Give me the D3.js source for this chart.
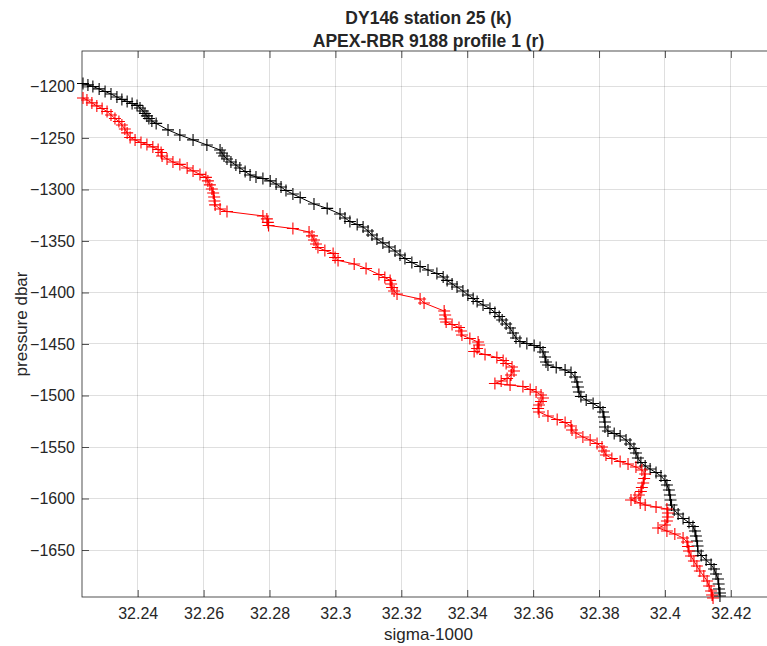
<!DOCTYPE html>
<html>
<head>
<meta charset="utf-8">
<script src="https://cdn.jsdelivr.net/npm/d3@7"></script>
<style>
  html, body { margin: 0; padding: 0; background: #fff; }
  text { font-family: "Liberation Sans", Arial, Helvetica, sans-serif; fill: #262626; }
</style>
</head>
<body>
<div id="chart"></div>
<script>
// DY146 station 25 (black)
var sigmaK = [32.2234,32.2249,32.2264,32.2283,32.2301,32.2319,32.2337,32.2352,32.2368,32.2383,
  32.2398,32.2407,32.2416,32.2422,32.2428,32.2434,32.2443,32.2456,32.2492,32.2528,
  32.2568,32.2610,32.2650,32.2656,32.2662,32.2671,32.2683,32.2698,32.2710,32.2726,
  32.2741,32.2759,32.2780,32.2802,32.2820,32.2835,32.2850,32.2871,32.2893,32.2935,
  32.2975,32.3014,32.3029,32.3044,32.3066,32.3084,32.3099,32.3111,32.3126,32.3144,
  32.3163,32.3181,32.3196,32.3211,32.3232,32.3257,32.3281,32.3308,32.3327,32.3339,
  32.3354,32.3369,32.3387,32.3402,32.3418,32.3430,32.3448,32.3469,32.3484,32.3497,
  32.3506,32.3518,32.3530,32.3539,32.3548,32.3560,32.3581,32.3603,32.3621,32.3630,
  32.3636,32.3639,32.3645,32.3670,32.3697,32.3715,32.3727,32.3733,32.3736,32.3739,
  32.3745,32.3761,32.3782,32.3803,32.3812,32.3815,32.3818,32.3818,32.3827,32.3846,
  32.3864,32.3882,32.3894,32.3906,32.3912,32.3918,32.3927,32.3940,32.3955,32.3973,
  32.3988,32.4000,32.4006,32.4012,32.4015,32.4017,32.4020,32.4028,32.4040,32.4055,
  32.4073,32.4085,32.4091,32.4094,32.4097,32.4099,32.4100,32.4110,32.4125,32.4140,
  32.4149,32.4155,32.4161,32.4163,32.4164,32.4167,32.4167];
var presK = [-1197.1,-1198.5,-1200.0,-1202.4,-1204.9,-1207.3,-1210.2,-1212.6,-1214.6,-1216.5,
  -1218.4,-1220.9,-1223.8,-1226.2,-1228.6,-1231.1,-1233.5,-1235.9,-1242.2,-1247.1,
  -1251.9,-1256.8,-1261.7,-1264.6,-1267.5,-1270.4,-1273.3,-1276.2,-1279.1,-1282.5,
  -1285.9,-1287.9,-1289.3,-1291.7,-1294.7,-1297.6,-1301.0,-1304.4,-1307.8,-1314.1,
  -1318.4,-1323.8,-1327.7,-1331.1,-1334.0,-1336.4,-1340.3,-1344.2,-1348.1,-1351.9,
  -1355.8,-1359.7,-1363.6,-1367.0,-1370.9,-1374.8,-1378.2,-1381.6,-1385.0,-1388.3,
  -1391.7,-1394.7,-1398.5,-1402.4,-1405.8,-1408.7,-1412.1,-1415.5,-1419.4,-1423.3,
  -1426.7,-1430.6,-1434.5,-1439.3,-1444.2,-1447.6,-1449.5,-1451.5,-1453.4,-1457.8,
  -1462.6,-1467.5,-1470.4,-1472.8,-1475.2,-1477.7,-1482.0,-1486.9,-1491.7,-1496.6,
  -1501.0,-1504.4,-1507.8,-1511.7,-1516.0,-1520.9,-1525.7,-1530.6,-1534.5,-1536.9,
  -1539.3,-1543.2,-1547.1,-1551.5,-1555.8,-1560.7,-1565.0,-1568.4,-1571.4,-1574.8,
  -1578.2,-1582.5,-1586.9,-1591.7,-1596.6,-1601.5,-1606.3,-1611.2,-1615.0,-1619.4,
  -1623.3,-1627.2,-1631.6,-1636.4,-1641.3,-1646.1,-1651.0,-1655.3,-1659.7,-1664.1,
  -1668.4,-1673.3,-1678.2,-1683.0,-1687.9,-1691.7,-1694.7];

// APEX-RBR 9188 profile 1 (red)
var sigmaR = [32.2234,32.2246,32.2261,32.2276,32.2292,32.2307,32.2319,32.2331,32.2343,32.2352,
  32.2361,32.2368,32.2377,32.2392,32.2410,32.2428,32.2446,32.2462,32.2471,32.2474,
  32.2489,32.2507,32.2528,32.2550,32.2568,32.2589,32.2607,32.2613,32.2619,32.2625,
  32.2629,32.2632,32.2633,32.2635,32.2650,32.2671,32.2780,32.2792,32.2795,32.2797,
  32.2871,32.2920,32.2929,32.2935,32.2941,32.2947,32.2968,32.2993,32.2999,32.3008,
  32.3057,32.3093,32.3132,32.3150,32.3166,32.3169,32.3172,32.3178,32.3187,32.3257,
  32.3269,32.3330,32.3333,32.3333,32.3336,32.3354,32.3375,32.3381,32.3384,32.3408,
  32.3433,32.3436,32.3430,32.3421,32.3454,32.3490,32.3509,32.3518,32.3536,32.3542,
  32.3533,32.3521,32.3503,32.3484,32.3530,32.3569,32.3591,32.3609,32.3624,32.3630,
  32.3624,32.3618,32.3615,32.3618,32.3645,32.3673,32.3697,32.3715,32.3718,32.3730,
  32.3751,32.3773,32.3794,32.3809,32.3815,32.3821,32.3839,32.3864,32.3888,32.3912,
  32.3930,32.3940,32.3937,32.3934,32.3930,32.3927,32.3921,32.3909,32.3897,32.3925,
  32.3940,32.3973,32.4006,32.4009,32.4009,32.4006,32.4000,32.3979,32.4006,32.4030,
  32.4055,32.4067,32.4070,32.4073,32.4079,32.4088,32.4097,32.4106,32.4118,32.4128,
  32.4134,32.4140,32.4143,32.4146];
var presR = [-1211.2,-1213.1,-1216.0,-1218.9,-1221.4,-1224.3,-1227.7,-1231.1,-1234.0,-1237.4,
  -1241.3,-1245.1,-1249.5,-1251.9,-1254.4,-1256.3,-1258.7,-1261.2,-1264.1,-1267.5,
  -1270.4,-1273.3,-1275.7,-1279.1,-1282.0,-1285.4,-1288.3,-1291.7,-1295.6,-1299.5,
  -1303.4,-1307.3,-1311.2,-1315.0,-1318.9,-1321.4,-1325.7,-1328.6,-1332.0,-1335.0,
  -1337.9,-1341.3,-1345.1,-1349.0,-1352.9,-1356.3,-1359.2,-1362.1,-1366.0,-1368.9,
  -1372.3,-1376.7,-1382.5,-1385.4,-1388.3,-1391.7,-1395.1,-1398.5,-1401.5,-1406.3,
  -1410.2,-1418.0,-1421.8,-1425.7,-1428.6,-1431.1,-1434.0,-1437.4,-1441.3,-1444.7,
  -1448.1,-1451.0,-1454.4,-1457.3,-1460.2,-1463.1,-1466.0,-1468.9,-1472.3,-1476.2,
  -1480.1,-1483.5,-1485.9,-1488.3,-1489.8,-1491.3,-1494.2,-1496.6,-1499.5,-1502.4,
  -1505.8,-1509.2,-1512.6,-1516.0,-1519.9,-1523.3,-1526.2,-1529.6,-1533.5,-1536.4,
  -1540.3,-1543.2,-1546.6,-1550.0,-1553.9,-1557.8,-1561.2,-1564.1,-1566.5,-1569.4,
  -1572.3,-1576.2,-1580.6,-1585.0,-1589.3,-1593.2,-1596.6,-1599.5,-1601.5,-1604.4,
  -1606.3,-1608.3,-1610.2,-1614.1,-1618.0,-1621.8,-1625.7,-1628.6,-1631.6,-1634.5,
  -1638.3,-1642.2,-1646.6,-1651.0,-1655.8,-1660.7,-1665.5,-1670.4,-1675.2,-1680.1,
  -1684.9,-1689.8,-1693.7,-1696.6];

var xTicks = [32.24, 32.26, 32.28, 32.3, 32.32, 32.34, 32.36, 32.38, 32.4, 32.42];
var yTicks = [-1650, -1600, -1550, -1500, -1450, -1400, -1350, -1300, -1250, -1200];
var xDomain = [32.2231, 32.4334];
var yDomain = [-1695.6, -1165.6];

var titleLines = ["DY146 station 25 (k)", "APEX-RBR 9188 profile 1 (r)"];

var width = 767, height = 646;
var box = {left: 82, right: 775, top: 51, bottom: 597};
var axisColor = "#262626";

var x = d3.scaleLinear().domain(xDomain).range([box.left, box.right]);
var y = d3.scaleLinear().domain(yDomain).range([box.bottom, box.top]);

var svg = d3.select("#chart")
            .append("svg")
            .attr("width", width)
            .attr("height", height)
            .style("display", "block");

svg.append("rect")
   .attr("width", width)
   .attr("height", height)
   .attr("fill", "#fff");

// grid
var grid = svg.append("g").attr("class", "grid")
              .attr("stroke", axisColor)
              .attr("stroke-opacity", 0.15)
              .attr("stroke-width", 1)
              .style("shape-rendering", "crispEdges");

grid.selectAll("line.gx")
    .data(xTicks)
    .enter()
    .append("line")
    .attr("x1", d => x(d)).attr("x2", d => x(d))
    .attr("y1", box.top).attr("y2", box.bottom);

grid.selectAll("line.gy")
    .data(yTicks)
    .enter()
    .append("line")
    .attr("x1", box.left).attr("x2", box.right)
    .attr("y1", d => y(d)).attr("y2", d => y(d));

// axes with inward ticks
var fmtX = d => String(+d.toFixed(2));

var xAxis = svg.append("g")
               .attr("transform", "translate(0," + box.bottom + ")")
               .call(d3.axisBottom(x).tickValues(xTicks).tickFormat(fmtX)
                       .tickSizeInner(-7).tickSizeOuter(0).tickPadding(10.5));

var xTop = svg.append("g")
              .attr("transform", "translate(0," + box.top + ")")
              .call(d3.axisTop(x).tickValues(xTicks).tickFormat("")
                      .tickSizeInner(-7).tickSizeOuter(0));

var yAxis = svg.append("g")
               .attr("transform", "translate(" + box.left + ",0)")
               .call(d3.axisLeft(y).tickValues(yTicks).tickFormat(d3.format("d"))
                       .tickSizeInner(-7).tickSizeOuter(0).tickPadding(7));

var yRight = svg.append("g")
                .attr("transform", "translate(" + box.right + ",0)")
                .call(d3.axisRight(y).tickValues(yTicks).tickFormat("")
                        .tickSizeInner(-7).tickSizeOuter(0));

[xAxis, xTop, yAxis, yRight].forEach(function(g){
    g.select(".domain").remove();
    g.selectAll(".tick line").attr("stroke", axisColor).attr("stroke-width", 0.8);
    g.selectAll(".tick text")
     .attr("fill", axisColor)
     .style("font-size", "16px")
     .style("font-family", "'Liberation Sans', Arial, Helvetica, sans-serif");
});

svg.append("rect")
   .attr("x", box.left)
   .attr("y", box.top)
   .attr("width", box.right - box.left)
   .attr("height", box.bottom - box.top)
   .attr("fill", "none")
   .attr("stroke", axisColor)
   .attr("stroke-width", 0.8);

// series
function toPoints(xs, ys){
    return xs.map((v, i) => [v, ys[i]]);
}

var line = d3.line().x(d => x(d[0])).y(d => y(d[1]));

function plus(d){
    var px = x(d[0]), py = y(d[1]), r = 6;
    return "M" + (px - r) + "," + py + "h" + (2 * r) + "M" + px + "," + (py - r) + "v" + (2 * r);
}

function drawSeries(pts, color){
    var g = svg.append("g");
    g.append("path")
     .datum(pts)
     .attr("d", line)
     .attr("fill", "none")
     .attr("stroke", color)
     .attr("stroke-width", 1);
    g.append("path")
     .attr("d", pts.map(plus).join(""))
     .attr("fill", "none")
     .attr("stroke", color)
     .attr("stroke-width", 1.1);
}

drawSeries(toPoints(sigmaK, presK), "#000000");
drawSeries(toPoints(sigmaR, presR), "#ff0000");

// labels
svg.append("text")
   .attr("x", (box.left + box.right) / 2)
   .attr("y", 640)
   .attr("text-anchor", "middle")
   .style("font-size", "17px")
   .text("sigma-1000");

svg.append("text")
   .attr("transform", "translate(27," + ((box.top + box.bottom) / 2) + ") rotate(-90)")
   .attr("text-anchor", "middle")
   .style("font-size", "17px")
   .text("pressure dbar");

svg.selectAll("text.title")
   .data(titleLines)
   .enter()
   .append("text")
   .attr("class", "title")
   .attr("x", (box.left + box.right) / 2)
   .attr("y", (d, i) => 24 + i * 23)
   .attr("text-anchor", "middle")
   .style("font-size", "17.5px")
   .style("font-weight", "bold")
   .attr("fill", "#000")
   .text(d => d);
</script>
</body>
</html>
